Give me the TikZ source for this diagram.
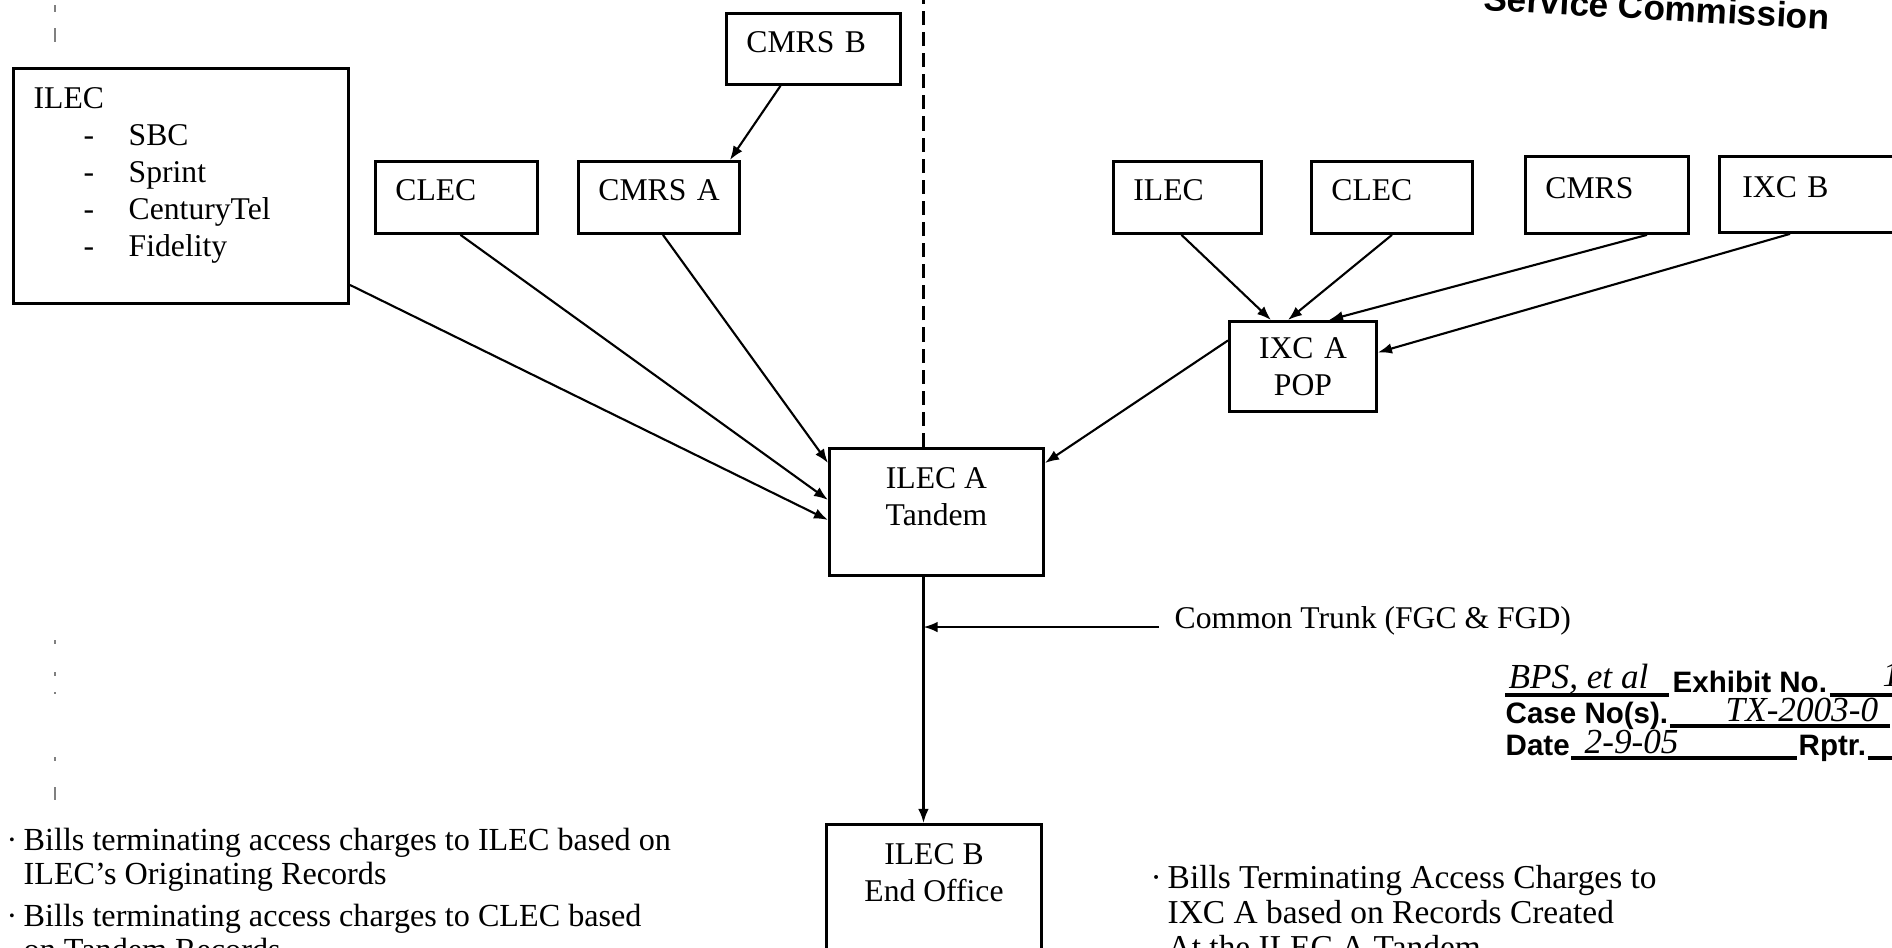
\documentclass[tikz,border=0pt]{standalone}
\usepackage{fontspec}
\setmainfont{Liberation Serif}
\newfontfamily\stampfont{Liberation Sans}
\usetikzlibrary{arrows.meta}
\usetikzlibrary{calc}
\usetikzlibrary{positioning}

\newcommand{\ilecitem}[1]{\hspace*{0.5cm}\makebox[0.45cm][l]{-}#1}

\begin{document}
\begin{tikzpicture}[x=0.01cm,y=-0.01cm,>={Latex[length=4pt,width=3pt]},
    every node/.style={font=\fontsize{9}{10.5}\selectfont},
    box/.style={draw,line width=0.8pt,anchor=north west,inner ysep=0pt,inner xsep=0.2cm,align=left},
    onebox/.style={box,text depth=4pt},
    conn/.style={->,line width=0.6pt},
    toplabel/.style={inner sep=0pt,align=center},
    notes/.style={anchor=north west,inner sep=0pt,align=left,font=\fontsize{9.15}{9.7}\selectfont},
    stamp/.style={font=\stampfont\bfseries\fontsize{8.4}{10}\selectfont,inner sep=0pt,anchor=base west},
    hand/.style={font=\itshape\fontsize{10}{11}\selectfont,inner sep=0pt,anchor=base west},
    stampline/.style={line width=1.2pt}]
    \useasboundingbox (0,0) rectangle (1892,947);
    \clip (0,0) rectangle (1892,947);
    \coordinate (pagetop) at (0,0);
    \node[box,minimum width=3.35cm,minimum height=2.35cm] (ilec) at (12,67) {};
    \node[toplabel,anchor=north west,align=left] (ileclist) at (33,87)
    {ILEC\\\ilecitem{SBC}\\\ilecitem{Sprint}\\\ilecitem{CenturyTel}\\\ilecitem{Fidelity}};
    \node[onebox,text width=1.22cm,minimum height=0.72cm] (clecl) at (374,160) {CLEC};
    \node[onebox,text width=1.21cm,minimum height=0.72cm] (cmrsa) at (577,160) {CMRS~A};
    \node[onebox,text width=1.34cm,minimum height=0.71cm] (cmrsb) at (725,12) {CMRS~B};
    \node[onebox,text width=1.08cm,minimum height=0.72cm] (ilecr) at (1112,160) {ILEC};
    \node[onebox,text width=1.21cm,minimum height=0.72cm] (clecr) at (1310,160) {CLEC};
    \node[onebox,text width=1.23cm,minimum height=0.77cm] (cmrs) at (1524,155) {CMRS};
    \node[onebox,inner xsep=0.23cm,text width=1.34cm,minimum height=0.76cm] (ixcb) at (1718,155) {IXC~B};
    \node[box,align=center,text width=1.07cm,minimum height=0.9cm] (ixca) at (1228,320) {IXC A\\POP};
    \node[box,minimum width=2.14cm,minimum height=1.27cm] (tandem) at (828,447) {};
    \node[toplabel,below=0.195cm of tandem.north] (tandemtext) {ILEC A\\Tandem};
    \node[box,minimum width=2.15cm,minimum height=1.6cm] (ilecb) at (825,823) {};
    \node[toplabel,below=0.195cm of ilecb.north] (ilecbtext) {ILEC B\\End Office};
    \draw[conn] ($(ilec.south east)+(0,-20)$) -- ($(tandem.west)+(0,8)$);
    \draw[conn] ($(clecl.south)+(4,0)$) -- ($(tandem.west)+(0,-12)$);
    \draw[conn] ($(cmrsa.south)+(4,0)$) -- ($(tandem.north west)+(0,16)$);
    \draw[conn] ($(cmrsb.south)+(-33,0)$) -- ($(cmrsa.north east)+(-11,0)$);
    \draw[conn] ($(ilecr.south)+(-6,0)$) -- ($(ixca.north)+(-32,0)$);
    \draw[conn] (clecr.south) -- ($(ixca.north)+(-15,0)$);
    \draw[conn] ($(cmrs.south)+(40,0)$) -- ($(ixca.north)+(26,0)$);
    \draw[conn] ($(ixcb.south west)+(72,0)$) -- ($(ixca.east)+(0,-14)$);
    \draw[conn] ($(ixca.west)+(0,-26)$) -- ($(tandem.north east)+(0,16)$);
    \coordinate (trunktop) at ($(tandem.south)+(-13,0)$);
    \draw[conn] (trunktop) -- (trunktop |- ilecb.north);
    \draw[line width=0.6pt,dash pattern=on 4pt off 2pt] (trunktop |- tandem.north) -- (trunktop |- pagetop);
    \node[anchor=base west,inner sep=0pt] (trunklabel) at (1174,628) {Common Trunk (FGC \& FGD)};
    \coordinate (trunkend) at ($(trunklabel.base west)+(-15,-1)$);
    \draw[conn] (trunkend) -- (trunkend -| trunktop);
    \node[notes] (leftnotes) at (6,827)
    {\makebox[0.17cm][l]{·}Bills terminating access charges to ILEC based on\\
    \hspace*{0.17cm}ILEC’s Originating Records\\[2.3pt]
    \makebox[0.17cm][l]{·}Bills terminating access charges to CLEC based\\
    \hspace*{0.17cm}on Tandem Records};
    \node[notes,font=\fontsize{9.5}{9.9}\selectfont] (rightnotes) at (1150,865)
    {\makebox[0.17cm][l]{·}Bills Terminating Access Charges to\\
    \hspace*{0.17cm}IXC A based on Records Created\\
    \hspace*{0.17cm}At the ILEC A Tandem};
    \node[font=\stampfont\bfseries\fontsize{10}{12}\selectfont,rotate=-3.2,anchor=base,inner sep=0pt] (commission) at (1656,20) {Service Commission};
    \node[stamp] (exhibit) at (1672,692) {Exhibit No.};
    \node[stamp] (caseno) at (1505,723) {Case No(s).};
    \node[stamp] (date) at (1505,755) {Date};
    \node[stamp] (rptr) at (1798,755) {Rptr.};
    \node[hand] (party) at (1508,688) {BPS, et al};
    \node[hand] (exhibitno) at (1882,686) {1};
    \node[hand] (casenum) at (1725,721) {TX-2003-0};
    \node[hand] (datenum) at (1584,753) {2-9-05};
    \draw[stampline] ($(exhibit.base west)+(-167,3)$) -- ($(exhibit.base west)+(-3,3)$);
    \draw[stampline] ($(exhibit.base east)+(2,3)$) -- ++(80,0);
    \draw[stampline] ($(caseno.base east)+(1,3)$) -- ++(220,0);
    \draw[stampline] ($(date.base east)+(1,3)$) -- ($(rptr.base west)+(-1,3)$);
    \draw[stampline] ($(rptr.base east)+(1,3)$) -- ++(40,0);
    \foreach \ya/\yb in {5/12,28/42,640/644,672/676,692/694,757/761,787/800}
    \draw[gray,line width=0.4pt] (55,\ya) -- (55,\yb);
\end{tikzpicture}
\end{document}
